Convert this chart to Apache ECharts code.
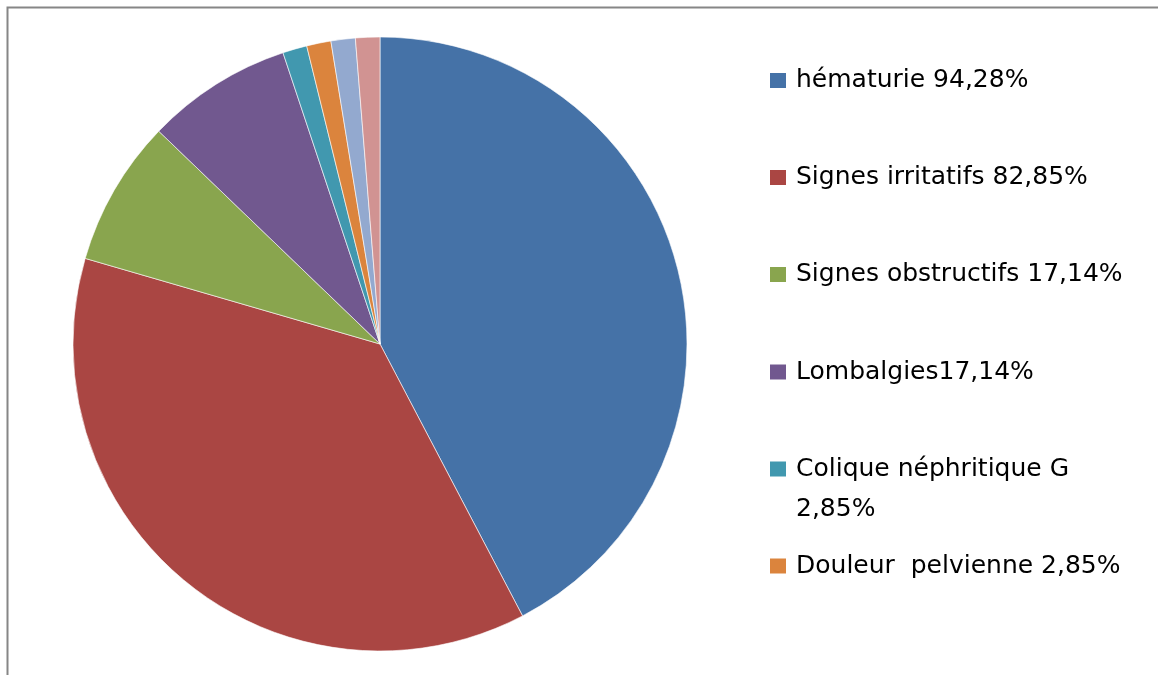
<!DOCTYPE html>
<html>
<head>
<meta charset="utf-8">
<script src="https://cdn.jsdelivr.net/npm/echarts@6/dist/echarts.min.js"></script>
<style>html,body{margin:0;padding:0;background:#fff}#c{width:1158px;height:675px}</style>
</head>
<body>
<div id="c"></div>
<script>
const labels = [
  "hématurie 94,28%",
  "Signes irritatifs 82,85%",
  "Signes obstructifs 17,14%",
  "Lombalgies17,14%",
  "Colique néphritique G\n2,85%",
  "Douleur  pelvienne 2,85%",
  "Autre 1 2,85%",
  "Autre 2 2,85%"
];
const values = [94.28, 82.85, 17.14, 17.14, 2.85, 2.85, 2.85, 2.85];
const colors = ["#4572A7", "#AA4643", "#89A54E", "#71588F", "#4198AF", "#DB843D", "#93A9CF", "#D19392"];
const legendCount = 6;
const legendCenters = [80.5, 177.5, 274.5, 372, 469, 566];

const chart = echarts.init(document.getElementById('c'));
const FS = 25;
const legends = labels.slice(0, legendCount).map((n, i) => {
  const multi = n.indexOf('\n') >= 0;
  const LH = multi ? 40 : 30;
  // bounding-rect top relative to icon top
  const rectTop = multi ? (8.5 - 1.5 * LH) : (8.5 - LH / 2);
  return {
    data: [n],
    left: 768,
    top: legendCenters[i] - 8.5 + rectTop,
    padding: 0,
    icon: 'rect',
    itemWidth: 18,
    itemHeight: 17,
    selectedMode: false,
    formatter: multi ? (name => '\n' + name) : undefined,
    textStyle: {
      fontFamily: 'DejaVu Sans',
      fontSize: FS,
      color: '#000',
      lineHeight: LH,
      padding: [0, 0, 0, 4]
    }
  };
});

chart.setOption({
  animation: false,
  backgroundColor: '#fff',
  color: colors,
  graphic: [{
    type: 'rect',
    shape: { x: 7.5, y: 7.5, width: 1300, height: 800 },
    style: { fill: 'none', stroke: '#868686', lineWidth: 2 },
    silent: true
  }],
  legend: legends,
  series: [{
    type: 'pie',
    center: [380, 344],
    radius: [0, 307],
    startAngle: 90,
    clockwise: true,
    label: { show: false },
    labelLine: { show: false },
    itemStyle: { borderColor: '#fff', borderWidth: 0.6 },
    emphasis: { disabled: true },
    data: labels.map((n, i) => ({ name: n, value: values[i] }))
  }]
});
</script>
</body>
</html>
